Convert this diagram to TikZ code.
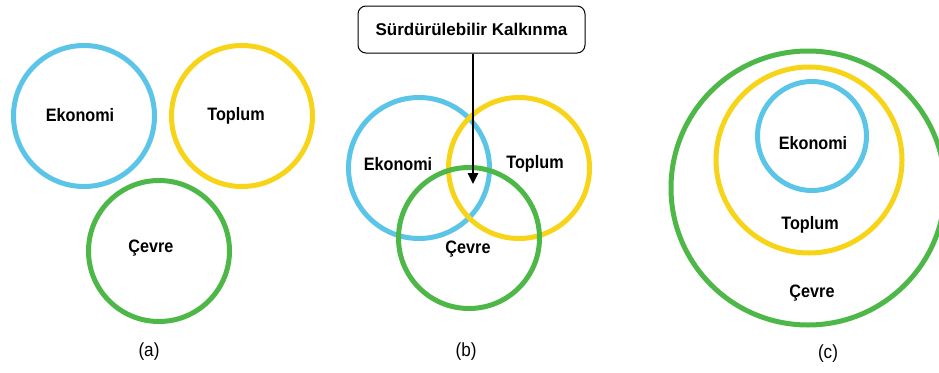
\documentclass[tikz,border=0pt]{standalone}
\usepackage{fontspec}
\setmainfont{Liberation Sans}[FakeStretch=0.9]
\newfontfamily\boxfont{Liberation Sans}
\usetikzlibrary{arrows.meta}
\definecolor{ecoblue}{HTML}{5BC5E8}
\definecolor{socyellow}{HTML}{F7D417}
\definecolor{envgreen}{HTML}{4DB848}
\tikzset{
  ring/.style={circle, line width=5pt, minimum size=#1, inner sep=0pt},
  lbl/.style={font=\bfseries\fontsize{18}{18}\selectfont, inner sep=0pt},
  panelcaption/.style={font=\fontsize{19}{19}\selectfont, inner sep=0pt},
  titlebox/.style={draw=black, line width=1pt, rounded corners=8pt, minimum width=227pt, minimum height=47pt, font=\boxfont\bfseries\fontsize{17}{17}\selectfont},
}
\begin{document}
\begin{tikzpicture}[x=1pt,y=-1pt]
\useasboundingbox (0,0) rectangle (939,372);
% (a)
\node[ring=141pt, draw=ecoblue] (aE) at (84,116) {};
\node[ring=141pt, draw=socyellow] (aT) at (242,116) {};
\node[ring=141pt, draw=envgreen] (aC) at (159,251) {};
\node[lbl] (aEl) at (80,115) {Ekonomi};
\node[lbl] (aTl) at (236,116) {Toplum};
\node[lbl] (aCl) at (151,248) {Çevre};
\node[panelcaption] (acap) at (149,352) {(a)};
% (b)
\node[ring=141pt, draw=ecoblue] (bE) at (419,168) {};
\node[ring=141pt, draw=socyellow] (bT) at (519,168) {};
\node[ring=141pt, draw=envgreen] (bC) at (469,238) {};
\node[lbl] (bEl) at (398,164) {Ekonomi};
\node[lbl] (bTl) at (535,164) {Toplum};
\node[lbl] (bCl) at (468,249) {Çevre};
\node[titlebox, fill=white] (box) at (471.5,29.5) {Sürdürülebilir Kalkınma};
\coordinate (tip) at (473,184);
\draw[line width=2.5pt, -{Triangle[length=11pt,width=10pt]}] (box.south -| tip) -- (tip);
\node[panelcaption] (bcap) at (466,352) {(b)};
% (c)
\node[ring=274pt, draw=envgreen] (cC) at (808,188) {};
\node[ring=186pt, draw=socyellow] (cT) at (809,160) {};
\node[ring=109pt, draw=ecoblue] (cE) at (812,136) {};
\node[lbl] (cEl) at (813,143) {Ekonomi};
\node[lbl] (cTl) at (810,225) {Toplum};
\node[lbl] (cCl) at (812,293) {Çevre};
\node[panelcaption] (ccap) at (828,354) {(c)};
\end{tikzpicture}
\end{document}
